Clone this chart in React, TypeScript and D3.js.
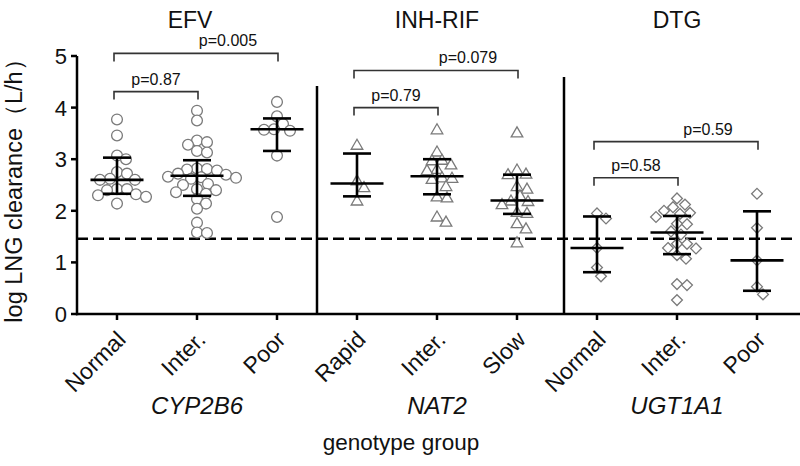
import React from "react";
import * as d3 from "d3";

// ---------- data ----------
const drugs = ["EFV", "INH-RIF", "DTG"];
const genes = ["CYP2B6", "NAT2", "UGT1A1"];
const tickLabels = ["Normal", "Inter.", "Poor", "Rapid", "Inter.", "Slow", "Normal", "Inter.", "Poor"];
const categoryIds = tickLabels.map((t, i) => `${i}-${t}`);

const efvNormal = [3.77, 3.46, 3.07, 3.0, 2.75, 2.72, 2.62, 2.6, 2.6, 2.42, 2.42, 2.4, 2.32, 2.3, 2.27, 2.14];
const efvInter = [3.94, 3.75, 3.36, 3.33, 3.28, 3.16, 3.13, 2.82, 2.81, 2.8, 2.78, 2.72, 2.7, 2.66, 2.65, 2.64, 2.62, 2.52, 2.5, 2.42, 2.4, 2.36, 2.33, 2.23, 2.14, 2.04, 1.77, 1.58, 1.57];
const efvPoor = [4.11, 3.83, 3.68, 3.57, 3.55, 3.58, 3.07, 1.88];
const inhRapid = [3.27, 2.58, 2.45, 2.19];
const inhInter = [3.57, 3.14, 2.98, 2.97, 2.89, 2.8, 2.78, 2.64, 2.63, 2.61, 2.47, 2.27, 2.25, 1.88, 1.78];
const inhSlow = [3.51, 2.79, 2.71, 2.7, 2.47, 2.42, 2.29, 2.19, 2.18, 2.12, 1.97, 1.95, 1.75, 1.65, 1.38];
const dtgNormal = [1.95, 1.85, 1.28, 0.9, 0.73];
const dtgInter = [2.24, 2.12, 2.07, 2.0, 1.96, 1.94, 1.88, 1.75, 1.74, 1.6, 1.54, 1.36, 1.36, 1.28, 1.27, 1.14, 1.07, 0.58, 0.56, 0.27];
const dtgPoor = [2.33, 1.67, 1.04, 0.53, 0.38];

const groupValues = [efvNormal, efvInter, efvPoor, inhRapid, inhInter, inhSlow, dtgNormal, dtgInter, dtgPoor];
const groupShapes = ["circle", "circle", "circle", "triangle", "triangle", "triangle", "diamond", "diamond", "diamond"];

const centerLine = [2.6, 2.68, 3.58, 2.53, 2.67, 2.2, 1.28, 1.58, 1.04];
const lowerBar = [2.33, 2.29, 3.16, 2.28, 2.32, 1.94, 0.81, 1.16, 0.45];
const upperBar = [3.03, 2.98, 3.79, 3.11, 3.0, 2.7, 1.89, 1.9, 1.99];

const threshold = 1.46;
const yTicks = [0, 1, 2, 3, 4, 5];

// p-value brackets: [from category index, to category index, level, label]
const bracketFrom = [0, 0, 3, 3, 6, 6];
const bracketTo = [1, 2, 4, 5, 7, 8];
const bracketLevel = [4.31, 5.05, 4.0, 4.72, 2.64, 3.34];
const bracketLabel = ["p=0.87", "p=0.005", "p=0.79", "p=0.079", "p=0.58", "p=0.59"];

// ---------- layout ----------
const W = 800;
const H = 466;
const FONT = "'Liberation Sans', Arial, Helvetica, sans-serif";

const x = d3.scaleBand().domain(categoryIds).range([77, 797]).paddingInner(0).paddingOuter(0);
const y = d3.scaleLinear().domain([0, 5]).range([314, 56]);
const cx = (i: number) => (x(categoryIds[i]) as number) + x.bandwidth() / 2;

function swarm(values: number[], center: number, minD: number) {
  const sorted = values.map((v, i) => ({ v, i })).sort((a, b) => b.v - a.v);
  const placed: { x: number; y: number }[] = [];
  for (const p of sorted) {
    const py = y(p.v);
    let dx = 0;
    for (let k = 0; k < 400; k++) {
      const cand = k === 0 ? 0 : (k % 2 === 1 ? 1 : -1) * Math.ceil(k / 2);
      const ok = placed.every((q) => (center + cand - q.x) ** 2 + (py - q.y) ** 2 >= minD * minD);
      if (ok) {
        dx = cand;
        break;
      }
    }
    placed.push({ x: center + dx, y: py });
  }
  return placed;
}

function Marker({ shape, px, py }: { shape: string; px: number; py: number }) {
  const stroke = "#7a7a7a";
  if (shape === "circle") {
    return <circle cx={px} cy={py} r={5.4} fill="white" stroke={stroke} strokeWidth={1.3} />;
  }
  if (shape === "triangle") {
    const p = d3.path();
    p.moveTo(px, py - 6);
    p.lineTo(px + 5.8, py + 4);
    p.lineTo(px - 5.8, py + 4);
    p.closePath();
    return <path d={p.toString()} fill="white" stroke={stroke} strokeWidth={1.3} />;
  }
  const p = d3.path();
  p.moveTo(px, py - 5.4);
  p.lineTo(px + 5.4, py);
  p.lineTo(px, py + 5.4);
  p.lineTo(px - 5.4, py);
  p.closePath();
  return <path d={p.toString()} fill="white" stroke={stroke} strokeWidth={1.3} />;
}

export default function App() {
  const divider1 = (cx(2) + cx(3)) / 2;
  const divider2 = (cx(5) + cx(6)) / 2 + 7;
  return (
    <svg
      width={W}
      height={H}
      viewBox={`0 0 ${W} ${H}`}
      style={{ position: "absolute", left: 0, top: 0, background: "white" }}
      fontFamily={FONT}
    >
      {/* drug titles */}
      {drugs.map((d, g) => (
        <text key={d} x={cx(g * 3 + 1) + (g === 0 ? -7 : 0)} y={28} fontSize={23} textAnchor="middle" fill="#111">
          {d}
        </text>
      ))}

      {/* y axis */}
      <line x1={77} x2={77} y1={y(5)} y2={y(0) + 1.2} stroke="black" strokeWidth={2.5} />
      {yTicks.map((t) => (
        <g key={t}>
          <line x1={71} x2={77} y1={y(t)} y2={y(t)} stroke="black" strokeWidth={2.5} />
          <text x={67} y={y(t) + 8} fontSize={22} textAnchor="end" fill="#111">
            {t}
          </text>
        </g>
      ))}
      <text
        transform={`translate(22,${(y(0) + y(5)) / 2}) rotate(-90)`}
        fontSize={23.5}
        textAnchor="middle"
        fill="#111"
      >
        log LNG clearance（L/h）
      </text>

      {/* x axis */}
      <line x1={76} x2={800} y1={y(0)} y2={y(0)} stroke="black" strokeWidth={2.5} />
      {categoryIds.map((id, i) => (
        <g key={id}>
          <line x1={cx(i)} x2={cx(i)} y1={y(0)} y2={y(0) + 6} stroke="black" strokeWidth={2.5} />
          <text
            transform={`translate(${cx(i) + 10},${y(0) + 27}) rotate(-45)`}
            fontSize={23}
            textAnchor="end"
            fill="#111"
          >
            {tickLabels[i]}
          </text>
        </g>
      ))}
      {genes.map((gname, g) => (
        <text key={gname} x={cx(g * 3 + 1)} y={414} fontSize={24} fontStyle="italic" textAnchor="middle" fill="#111">
          {gname}
        </text>
      ))}
      <text x={401} y={450} fontSize={22.5} textAnchor="middle" fill="#111">
        genotype group
      </text>

      {/* dividers */}
      <line x1={divider1} x2={divider1} y1={86} y2={y(0)} stroke="black" strokeWidth={2.5} />
      <line x1={divider2} x2={divider2} y1={77} y2={y(0)} stroke="black" strokeWidth={2.5} />

      {/* threshold */}
      <line
        x1={77}
        x2={797}
        y1={y(threshold)}
        y2={y(threshold)}
        stroke="black"
        strokeWidth={2.5}
        strokeDasharray="11 5"
      />

      {/* points */}
      {groupValues.map((vals, gi) =>
        swarm(vals, cx(gi), 9.6).map((p, k) => (
          <Marker key={`${gi}-${k}`} shape={groupShapes[gi]} px={p.x} py={p.y} />
        ))
      )}

      {/* median / IQR bars */}
      {categoryIds.map((id, i) => (
        <g key={`bar-${id}`} stroke="black" strokeWidth={2.6}>
          <line x1={cx(i) - 26.5} x2={cx(i) + 26.5} y1={y(centerLine[i])} y2={y(centerLine[i])} />
          <line x1={cx(i)} x2={cx(i)} y1={y(lowerBar[i])} y2={y(upperBar[i])} />
          <line x1={cx(i) - 14} x2={cx(i) + 14} y1={y(lowerBar[i])} y2={y(lowerBar[i])} />
          <line x1={cx(i) - 14} x2={cx(i) + 14} y1={y(upperBar[i])} y2={y(upperBar[i])} />
        </g>
      ))}

      {/* brackets */}
      {bracketLabel.map((lab, b) => {
        const x1 = cx(bracketFrom[b]) - 3;
        const x2 = cx(bracketTo[b]) + 1;
        const by = y(bracketLevel[b]);
        const span = bracketTo[b] - bracketFrom[b];
        const tx = (x1 + x2) / 2 + (span > 1 ? 0.4 * x.step() : 0);
        return (
          <g key={lab}>
            <path
              d={`M${x1},${by + 8}V${by}H${x2}V${by + 8}`}
              fill="none"
              stroke="#333"
              strokeWidth={1.6}
            />
            <text x={tx} y={by - 7} fontSize={16} textAnchor="middle" fill="#111">
              {lab}
            </text>
          </g>
        );
      })}
    </svg>
  );
}
